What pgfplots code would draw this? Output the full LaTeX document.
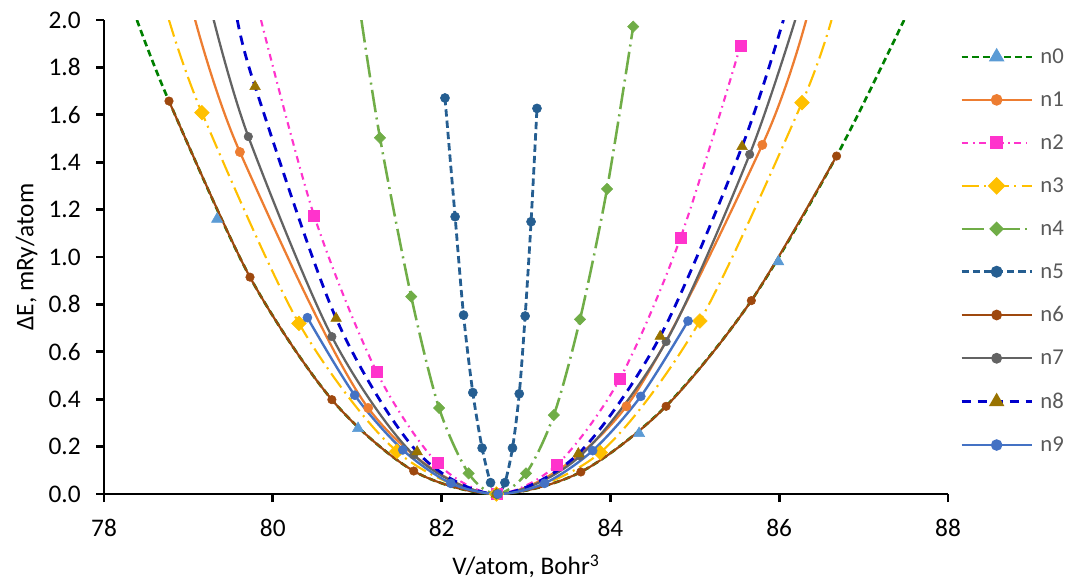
\documentclass[border=0pt]{standalone}
\usepackage{fontspec}
\setmainfont{Carlito}
\usepackage{pgfplots}
\pgfplotsset{compat=1.18}

\definecolor{cN0}{HTML}{008000}
\definecolor{cM0}{HTML}{5B9BD5}
\definecolor{cN1}{HTML}{ED7D31}
\definecolor{cN2}{HTML}{FF33CC}
\definecolor{cN3}{HTML}{FFC000}
\definecolor{cN4}{HTML}{70AD47}
\definecolor{cN5}{HTML}{255E91}
\definecolor{cN6}{HTML}{9E480E}
\definecolor{cN7}{HTML}{636363}
\definecolor{cN8}{HTML}{0000CC}
\definecolor{cM8}{HTML}{997300}
\definecolor{cN9}{HTML}{4472C4}
\definecolor{legtext}{HTML}{595959}

\pgfplotsset{
    s0/.style={cN0, line width=2pt, dash pattern=on 5pt off 3pt},
    k0/.style={mark=triangle*, mark size=4.8pt, mark options={solid, fill=cM0, draw=cM0}},
    s1/.style={cN1, line width=1.7pt},
    k1/.style={mark=*, mark size=3.5pt, mark options={solid, fill=cN1, draw=cN1}},
    s2/.style={cN2, line width=1.6pt, dash pattern=on 5pt off 3.5pt on 1.2pt off 3.5pt},
    k2/.style={mark=square*, mark size=4.1pt, mark options={solid, fill=cN2, draw=cN2}},
    s3/.style={cN3, line width=1.6pt, dash pattern=on 13pt off 4pt on 1.5pt off 4pt},
    k3/.style={mark=square*, mark size=3.9pt, mark options={solid, rotate=45, fill=cN3, draw=cN3}},
    s4/.style={cN4, line width=1.9pt, dash pattern=on 17pt off 4pt on 1.5pt off 4pt},
    k4/.style={mark=square*, mark size=3.0pt, mark options={solid, rotate=45, fill=cN4, draw=cN4}},
    s5/.style={cN5, line width=2.1pt, dash pattern=on 5.5pt off 3pt},
    k5/.style={mark=*, mark size=3.4pt, mark options={solid, fill=cN5, draw=cN5}},
    s6/.style={cN6, line width=1.6pt},
    k6/.style={mark=*, mark size=3.2pt, mark options={solid, fill=cN6, draw=cN6}},
    s7/.style={cN7, line width=1.7pt},
    k7/.style={mark=*, mark size=3.2pt, mark options={solid, fill=cN7, draw=cN7}},
    s8/.style={cN8, line width=2.1pt, dash pattern=on 7pt off 5pt},
    k8/.style={mark=triangle*, mark size=4.6pt, mark options={solid, fill=cM8, draw=cM8}},
    s9/.style={cN9, line width=1.8pt},
    k9/.style={mark=*, mark size=3.4pt, mark options={solid, fill=cN9, draw=cN9}},
}

\begin{document}
\begin{tikzpicture}
\begin{axis}[
    scale only axis, width=633pt, height=355.5pt,
    xmin=78, xmax=88, ymin=0, ymax=2,
    axis x line*=bottom, axis y line*=left,
    axis line style={line width=2pt, black},
    xtick={78,80,82,84,86,88},
    ytick={0,0.2,0.4,0.6,0.8,1,1.2,1.4,1.6,1.8,2},
    tick align=outside, major tick length=6pt,
    every tick/.style={line width=2pt, black},
    tick label style={font=\fontsize{19}{22}\selectfont, text=black},
    /pgf/number format/assume math mode=true,
    y tick label style={xshift=-8pt, /pgf/number format/.cd, fixed, fixed zerofill, precision=1, /tikz/.cd},
    x tick label style={yshift=-9pt},
    xlabel={V/atom, Bohr\textsuperscript{3}},
    ylabel={ΔE, mRy/atom},
    every axis x label/.style={at={(axis description cs:0.5,0)}, anchor=center, yshift=-54.4pt,
        font=\fontsize{19}{22}\selectfont},
    every axis y label/.style={at={(axis description cs:0,0.5)}, rotate=90, anchor=center, yshift=58pt,
        font=\fontsize{19}{22}\selectfont},
    legend image code/.code={\draw[mark repeat=2, mark phase=2, #1] plot coordinates {(0pt,0pt) (26.25pt,0pt) (52.5pt,0pt)};},
    legend cell align=left,
    legend style={draw=none, fill=none, inner sep=0pt, at={(axis description cs:1.0142,0.946)}, anchor=north west,
        font=\fontsize{17}{20}\selectfont, text=legtext, row sep=15.75pt,
        /tikz/every odd column/.append style={column sep=3.5pt}},
]
\addlegendimage{s0, k0} \addlegendentry{n0}
\addlegendimage{s1, k1} \addlegendentry{n1}
\addlegendimage{s2, k2} \addlegendentry{n2}
\addlegendimage{s3, k3} \addlegendentry{n3}
\addlegendimage{s4, k4} \addlegendentry{n4}
\addlegendimage{s5, k5} \addlegendentry{n5}
\addlegendimage{s6, k6} \addlegendentry{n6}
\addlegendimage{s7, k7} \addlegendentry{n7}
\addlegendimage{s8, k8} \addlegendentry{n8}
\addlegendimage{s9, k9} \addlegendentry{n9}

% n0
\addplot[s0, smooth, no markers, forget plot] coordinates {
    (78.39,2.000) (78.77,1.658) (79.73,0.915) (80.70,0.398) (81.67,0.097) (82.65,0.000)
    (83.65,0.093) (84.65,0.368) (85.67,0.816) (86.68,1.426) (87.48,2.000)};
\addplot[k0, only marks, forget plot] coordinates {
    (79.34,1.160) (81.01,0.277) (82.65,0.000) (84.34,0.256) (85.99,0.980)};
% n1
\addplot[s1, smooth, no markers, forget plot] coordinates {
    (79.08,2.000) (79.61,1.443) (81.13,0.363) (82.65,0.000) (84.19,0.370) (85.80,1.473) (86.32,2.000)};
\addplot[k1, only marks, forget plot] coordinates {
    (79.61,1.443) (81.13,0.363) (82.65,0.000) (84.19,0.370) (85.80,1.473)};
% n2
\addplot[s2, smooth, no markers, forget plot] coordinates {
    (79.86,2.000) (80.49,1.174) (81.23,0.516) (81.95,0.130) (82.65,0.000) (83.37,0.125)
    (84.11,0.485) (84.83,1.080) (85.54,1.890)};
\addplot[k2, only marks, forget plot] coordinates {
    (80.49,1.174) (81.23,0.516) (81.95,0.130) (82.65,0.000) (83.37,0.125)
    (84.11,0.485) (84.83,1.080) (85.54,1.890)};
% n3
\addplot[s3, smooth, no markers, forget plot] coordinates {
    (78.77,2.000) (79.16,1.609) (80.31,0.720) (81.47,0.180) (82.65,0.000) (83.88,0.175)
    (85.06,0.730) (86.27,1.651) (86.62,2.000)};
\addplot[k3, only marks, forget plot] coordinates {
    (79.16,1.609) (80.31,0.720) (81.47,0.180) (82.65,0.000) (83.88,0.175)
    (85.06,0.730) (86.27,1.651)};
% n4
\addplot[s4, smooth, no markers, forget plot] coordinates {
    (81.05,2.000) (81.27,1.503) (81.64,0.833) (81.97,0.363) (82.32,0.087) (82.65,0.000)
    (83.00,0.087) (83.33,0.333) (83.64,0.737) (83.96,1.287) (84.27,1.972)};
\addplot[k4, only marks, forget plot] coordinates {
    (81.27,1.503) (81.64,0.833) (81.97,0.363) (82.32,0.087) (82.65,0.000)
    (83.00,0.087) (83.33,0.333) (83.64,0.737) (83.96,1.287) (84.27,1.972)};
% n5
\addplot[s5, smooth, no markers, forget plot] coordinates {
    (82.04,1.671) (82.16,1.170) (82.26,0.755) (82.37,0.428) (82.48,0.194) (82.58,0.048)
    (82.66,0.000) (82.75,0.048) (82.84,0.194) (82.92,0.423) (82.99,0.751) (83.06,1.149) (83.13,1.627)};
\addplot[k5, only marks, forget plot] coordinates {
    (82.04,1.671) (82.16,1.170) (82.26,0.755) (82.37,0.428) (82.48,0.194) (82.58,0.048)
    (82.66,0.000) (82.75,0.048) (82.84,0.194) (82.92,0.423) (82.99,0.751) (83.06,1.149) (83.13,1.627)};
% n6
\addplot[s6, smooth, no markers, forget plot] coordinates {
    (78.77,1.658) (79.73,0.915) (80.70,0.398) (81.67,0.097) (82.65,0.000) (83.65,0.093)
    (84.66,0.370) (85.67,0.816) (86.68,1.426)};
\addplot[k6, only marks, forget plot] coordinates {
    (78.77,1.658) (79.73,0.915) (80.70,0.398) (81.67,0.097) (82.65,0.000) (83.65,0.093)
    (84.66,0.370) (85.67,0.816) (86.68,1.426)};
% n7
\addplot[s7, smooth, no markers, forget plot] coordinates {
    (79.30,2.000) (79.71,1.508) (80.70,0.664) (81.67,0.165) (82.65,0.000) (83.64,0.160)
    (84.66,0.643) (85.65,1.433) (86.19,2.000)};
\addplot[k7, only marks, forget plot] coordinates {
    (79.71,1.508) (80.70,0.664) (81.67,0.165) (82.65,0.000) (83.64,0.160)
    (84.66,0.643) (85.65,1.433)};
% n8
\addplot[s8, smooth, no markers, forget plot] coordinates {
    (79.58,2.000) (79.79,1.719) (80.75,0.741) (81.71,0.178) (82.65,0.000) (83.62,0.170)
    (84.59,0.665) (85.56,1.466) (86.05,2.000)};
\addplot[k8, only marks, forget plot] coordinates {
    (79.79,1.719) (80.75,0.741) (81.71,0.178) (82.65,0.000) (83.62,0.170)
    (84.59,0.665) (85.56,1.466)};
% n9
\addplot[s9, smooth, no markers, forget plot] coordinates {
    (80.41,0.744) (80.97,0.417) (81.54,0.186) (82.11,0.045) (82.67,0.000) (83.22,0.045)
    (83.79,0.183) (84.36,0.412) (84.92,0.730)};
\addplot[k9, only marks, forget plot] coordinates {
    (80.41,0.744) (80.97,0.417) (81.54,0.186) (82.11,0.045) (82.67,0.000) (83.22,0.045)
    (83.79,0.183) (84.36,0.412) (84.92,0.730)};
\end{axis}
\pgfresetboundingbox
\path[use as bounding box] (-78pt,-66.75pt) rectangle (726pt,370.5pt);
\end{tikzpicture}
\end{document}
